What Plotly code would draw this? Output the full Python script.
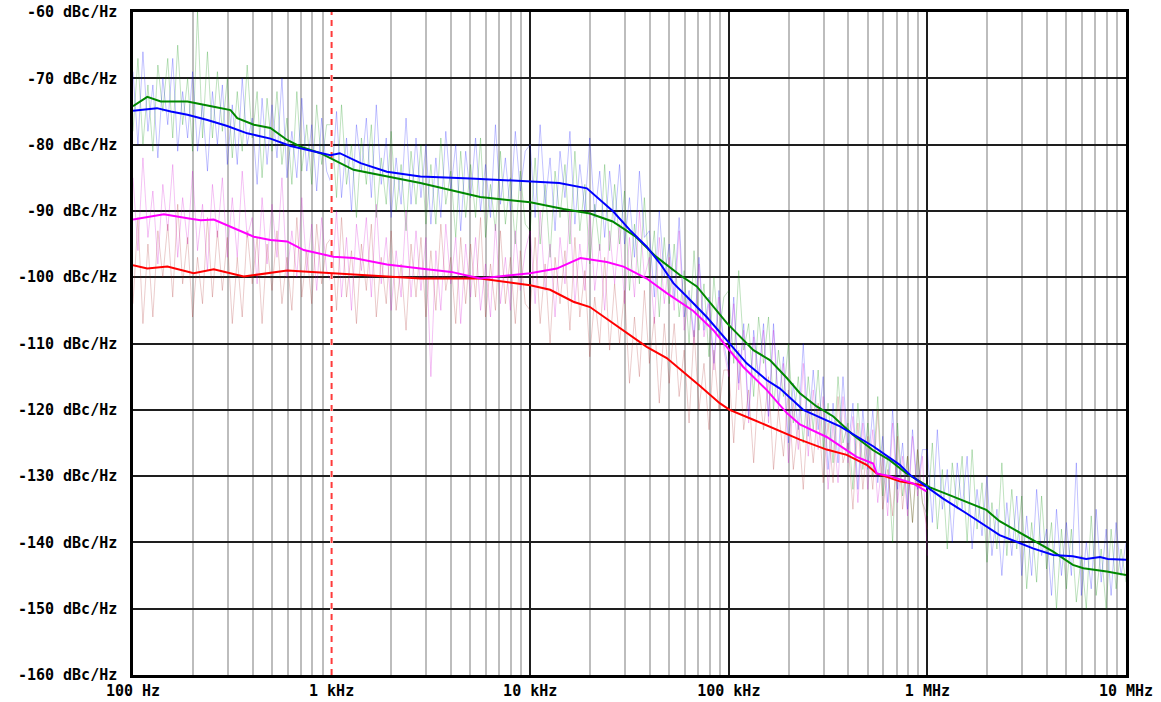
import plotly.graph_objects as go

# ---------------- data ----------------
X_TICKS = [100, 1000, 10000, 100000, 1000000, 10000000]
X_LABELS = ["100 Hz", "1 kHz", "10 kHz", "100 kHz", "1 MHz", "10 MHz"]
Y_TICKS = [-60, -70, -80, -90, -100, -110, -120, -130, -140, -150, -160]
Y_LABELS = ["-60 dBc/Hz", "-70 dBc/Hz", "-80 dBc/Hz", "-90 dBc/Hz", "-100 dBc/Hz",
            "-110 dBc/Hz", "-120 dBc/Hz", "-130 dBc/Hz", "-140 dBc/Hz", "-150 dBc/Hz",
            "-160 dBc/Hz"]
Y_RANGE = [-160, -60]
MARKER_FREQ = 1000

# sample grid of the raw measurement (40 points per decade)
DECADES = [100, 1000, 10000, 100000, 1000000]
DECADE_STEPS = [1.000, 1.059, 1.122, 1.189, 1.259, 1.334, 1.413, 1.496, 1.585, 1.679,
                1.778, 1.884, 1.995, 2.113, 2.239, 2.371, 2.512, 2.661, 2.818, 2.985,
                3.162, 3.350, 3.548, 3.758, 3.981, 4.217, 4.467, 4.732, 5.012, 5.309,
                5.623, 5.957, 6.310, 6.683, 7.079, 7.499, 7.943, 8.414, 8.913, 9.441]
LAST_FREQ = 10000000

# raw (noisy) measurements
BLUE_NOISE = [
    -69, -80, -66, -78, -71, -82, -70, -77, -67, -81, -72, -79, -69, -81, -74, -84, -72, -80, -71, -83,
    -74, -83, -70, -80, -76, -86, -73, -83, -74, -82, -70, -85, -78, -85, -73, -84, -77, -87, -76, -84,
    -86, -75, -88, -79, -90, -77, -84, -76, -88, -74, -86, -79, -91, -82, -89, -76, -89, -79, -88, -80,
    -92, -82, -91, -78, -87, -80, -93, -81, -88, -79, -90, -83, -91, -77, -89, -82, -90, -78, -87, -81,
    -80, -91, -77, -89, -82, -93, -81, -88, -78, -92, -83, -90, -79, -91, -84, -94, -84, -92, -83, -95,
    -88, -97, -84, -94, -93, -103, -90, -100, -95, -103, -91, -106, -102, -109, -97, -108, -103, -113, -102, -110,
    -114, -103, -116, -107, -121, -108, -115, -107, -121, -107, -119, -112, -125, -116, -123, -110, -124, -114, -123, -115,
    -129, -119, -128, -115, -126, -119, -132, -120, -129, -120, -131, -124, -134, -120, -132, -125, -135, -123, -132, -126,
    -126, -137, -123, -135, -129, -140, -128, -135, -127, -141, -132, -139, -130, -142, -135, -145, -134, -142, -133, -145,
    -136, -145, -132, -142, -138, -148, -135, -145, -137, -145, -128, -148, -140, -147, -135, -146, -138, -148, -137, -145,
    -140]

GREEN_NOISE = [
    -78, -67, -80, -71, -81, -68, -75, -67, -79, -65, -77, -70, -81, -60, -79, -66, -79, -69, -78, -70,
    -82, -72, -81, -68, -79, -72, -85, -73, -81, -72, -83, -76, -86, -72, -84, -77, -86, -74, -83, -77,
    -77, -88, -74, -86, -80, -91, -79, -86, -77, -91, -82, -89, -78, -90, -83, -93, -81, -89, -80, -92,
    -83, -92, -79, -89, -84, -94, -81, -91, -83, -91, -79, -94, -86, -93, -81, -92, -85, -95, -84, -92,
    -93, -82, -95, -86, -97, -84, -91, -83, -95, -81, -93, -86, -98, -89, -96, -83, -96, -86, -95, -87,
    -102, -92, -101, -88, -100, -93, -106, -94, -104, -95, -106, -99, -110, -96, -108, -101, -112, -100, -109, -103,
    -102, -113, -99, -111, -107, -118, -106, -113, -106, -120, -111, -118, -110, -122, -115, -125, -115, -123, -114, -126,
    -119, -128, -115, -125, -122, -132, -119, -129, -122, -130, -118, -133, -127, -140, -122, -133, -127, -137, -126, -134,
    -136, -125, -138, -129, -141, -128, -135, -127, -140, -126, -138, -131, -143, -134, -141, -128, -142, -132, -141, -133,
    -147, -137, -146, -133, -144, -137, -150, -138, -147, -138, -149, -142, -150, -136, -148, -141, -150, -138, -147, -141,
    -146]

MAGENTA_NOISE = [
    -85, -96, -82, -94, -87, -98, -86, -93, -83, -97, -88, -95, -84, -96, -89, -99, -86, -94, -85, -97,
    -88, -97, -84, -94, -91, -101, -88, -98, -89, -97, -85, -100, -93, -100, -88, -99, -92, -102, -91, -99,
    -101, -90, -103, -94, -105, -92, -99, -91, -103, -89, -101, -94, -105, -96, -103, -90, -103, -93, -102, -94,
    -115, -96, -105, -92, -101, -94, -107, -95, -103, -94, -105, -98, -106, -92, -104, -97, -105, -93, -102, -96,
    -93, -104, -90, -102, -95, -106, -94, -101, -90, -104, -95, -102, -90, -102, -95, -105, -93, -101, -92, -104,
    -94, -103, -90, -100, -97, -107, -94, -104, -97, -105, -93, -108, -103, -110, -98, -109, -104, -114, -103, -111,
    -115, -104, -117, -108, -122, -109, -116, -108, -122, -108, -120, -113, -128, -119, -126, -113, -127, -117, -126, -118,
    -132, -122, -131, -118, -128, -121, -134, -122, -132, -123, -134, -127, -136, -122, -134, -127, -136, -124, -133, -127,
    -142]

RED_NOISE = [
    -104, -91, -107, -95, -106, -93, -100, -92, -103, -89, -101, -94, -106, -97, -104, -91, -103, -93, -102, -94,
    -107, -97, -106, -93, -101, -94, -107, -95, -102, -93, -104, -97, -105, -91, -103, -96, -104, -92, -101, -95,
    -94, -105, -91, -103, -96, -107, -95, -102, -92, -106, -97, -104, -93, -105, -98, -108, -95, -103, -94, -106,
    -96, -105, -92, -102, -97, -107, -94, -104, -95, -103, -91, -106, -98, -105, -93, -104, -97, -107, -96, -104,
    -105, -94, -107, -98, -110, -97, -104, -96, -108, -94, -106, -99, -112, -103, -110, -97, -111, -101, -110, -102,
    -116, -106, -115, -102, -113, -106, -119, -107, -116, -107, -118, -111, -122, -108, -120, -113, -123, -111, -120, -114,
    -114, -125, -111, -123, -117, -128, -116, -123, -115, -129, -120, -127, -117, -129, -122, -132, -120, -128, -119, -131,
    -122, -131, -118, -128, -125, -135, -122, -132, -124, -132, -120, -135, -129, -136, -124, -135, -127, -137, -126, -134,
    -138]

# averaged (smooth) traces
BLUE_F = [100, 132, 155, 188, 237, 298, 376, 492, 621, 753, 986, 1100, 1400, 1900, 2800, 5000, 7000, 10000, 14000,
          19300, 22500, 26200, 31800, 38600, 45000, 52600, 61400, 77400, 97600, 123000, 155000, 181000, 237000,
          363000, 533000, 726000, 815000, 1000000, 1200000, 1570000, 2310000, 3400000, 4300000, 5400000, 6300000,
          7400000, 8100000, 10000000]
BLUE_V = [-74.9, -74.5, -75.0, -75.5, -76.3, -77.2, -78.3, -79.1, -80.2, -80.8, -81.6, -81.3, -82.8, -84.1, -84.8, -85.1, -85.3, -85.5, -85.8,
          -86.6, -88.4, -90.1, -92.9, -95.4, -97.9, -100.9, -102.9, -106.0, -109.5, -113.0, -115.5, -116.8, -120.0,
          -122.5, -125.5, -128.3, -129.8, -131.7, -133.4, -135.6, -138.9, -140.9, -141.9, -142.1, -142.5,
          -142.2, -142.5, -142.6]

GREEN_F = [100, 118, 138, 188, 255, 310, 335, 406, 492, 597, 697, 878, 1290, 1900, 2800, 5600, 10000, 14700, 20000,
           26000, 34000, 43000, 56900, 69000, 97600, 133000, 161000, 196000, 228000, 277000, 336000, 423000, 533000,
           646000, 785000, 916000, 1030000, 1350000, 1980000, 2310000, 3400000, 4300000, 5400000, 6100000, 8000000, 10000000]
GREEN_V = [-74.2, -72.8, -73.5, -73.5, -74.3, -74.8, -76.0, -77.0, -77.5, -79.3, -80.3, -81.3, -83.8, -84.8, -85.8, -87.9, -88.7, -89.7, -90.4,
           -91.6, -93.9, -96.9, -99.7, -101.4, -106.9, -111.0, -112.5, -115.2, -117.5, -119.5, -121.0, -123.8, -126.1,
           -127.6, -129.6, -130.8, -131.7, -133.1, -135.1, -136.8, -139.6, -141.4, -143.4, -143.9, -144.4, -144.9]

MAGENTA_F = [100, 143, 188, 219, 255, 310, 406, 492, 597, 724, 1020, 1290, 1900, 2800, 4000, 5600, 10000, 13600, 17900,
             24300, 29500, 38600, 48700, 66300, 83600, 97600, 118000, 155000, 196000, 228000, 311000, 440000, 533000,
             555000, 646000, 847000, 989000]
MAGENTA_V = [-91.3, -90.5, -91.1, -91.4, -91.3, -92.4, -93.9, -94.4, -94.6, -95.9, -96.9, -97.1, -98.1, -98.7, -99.2, -100.2, -99.4, -98.7, -97.1,
             -97.7, -98.4, -100.2, -102.4, -105.1, -108.0, -110.5, -113.5, -117.0, -120.5, -122.2, -124.1, -127.1, -128.1,
             -129.6, -130.0, -131.1, -132.3]

RED_F = [100, 118, 149, 202, 255, 361, 597, 986, 1760, 2800, 5600, 10000, 12600, 16500, 20000, 28400, 38600, 48700,
         66300, 71600, 90000, 101000, 133000, 188000, 228000, 311000, 392000, 494000, 555000, 726000, 881000, 989000]
RED_V = [-98.2, -98.7, -98.4, -99.4, -98.8, -99.9, -99.0, -99.4, -99.9, -100.2, -100.2, -101.2, -101.9, -103.7, -104.5, -107.7, -110.5, -112.2,
         -115.5, -116.4, -119.0, -120.0, -121.5, -123.5, -124.5, -126.0, -126.8, -128.3, -129.6, -130.8, -131.3, -131.5]

# ---------------- figure ----------------
NOISE_F = [d * s for d in DECADES for s in DECADE_STEPS] + [LAST_FREQ]

fig = go.Figure()

noise = [
    (GREEN_NOISE, "rgba(0,140,0,0.25)"),
    (BLUE_NOISE, "rgba(0,0,255,0.24)"),
    (MAGENTA_NOISE, "rgba(210,0,210,0.24)"),
    (RED_NOISE, "rgba(170,40,40,0.24)"),
]
for fy, col in noise:
    fig.add_trace(go.Scatter(x=NOISE_F[:len(fy)], y=fy, mode="lines", line=dict(color=col, width=1),
                             hoverinfo="skip", showlegend=False))

# 1 kHz marker: white backing hides the decade grid line, then red dashes
fig.add_trace(go.Scatter(x=[MARKER_FREQ, MARKER_FREQ], y=Y_RANGE, mode="lines",
                         line=dict(color="white", width=3), hoverinfo="skip", showlegend=False))
fig.add_trace(go.Scatter(x=[MARKER_FREQ, MARKER_FREQ], y=Y_RANGE, mode="lines",
                         line=dict(color="#ff3b3b", width=2, dash="6px,5px"),
                         hoverinfo="skip", showlegend=False))

smooth = [
    (RED_F, RED_V, "#ff0000"),
    (MAGENTA_F, MAGENTA_V, "#ff00ff"),
    (GREEN_F, GREEN_V, "#008800"),
    (BLUE_F, BLUE_V, "#0000ff"),
]
for fx, fy, col in smooth:
    fig.add_trace(go.Scatter(x=fx, y=fy, mode="lines", line=dict(color=col, width=2),
                             showlegend=False))

tick_font = dict(family="DejaVu Sans Mono", size=15, color="black", weight="bold")

fig.update_layout(
    width=1161, height=702,
    margin=dict(l=133, r=35, t=12, b=27),
    paper_bgcolor="white", plot_bgcolor="white",
    showlegend=False,
    xaxis=dict(
        type="log", range=[2, 7], automargin=False,
        tickmode="array", tickvals=X_TICKS, ticktext=X_LABELS,
        tickfont=tick_font, ticks="", ticklabelstandoff=0,
        showgrid=True, gridcolor="#1e1e1e", gridwidth=1.5,
        minor=dict(dtick="D1", showgrid=True, gridcolor="#bdbdbd", gridwidth=1.5, ticks=""),
        showline=True, linecolor="black", linewidth=2.5, mirror=True, zeroline=False,
    ),
    yaxis=dict(
        range=Y_RANGE, automargin=False,
        tickmode="array", tickvals=Y_TICKS, ticktext=Y_LABELS,
        tickfont=tick_font, ticks="", ticklabelstandoff=10,
        showgrid=True, gridcolor="#1e1e1e", gridwidth=1.5,
        showline=True, linecolor="black", linewidth=2.5, mirror=True, zeroline=False,
    ),
)

fig.write_html("out.html", config={"displayModeBar": False},
               post_script="document.body.style.margin='0';document.body.style.overflow='hidden';")
